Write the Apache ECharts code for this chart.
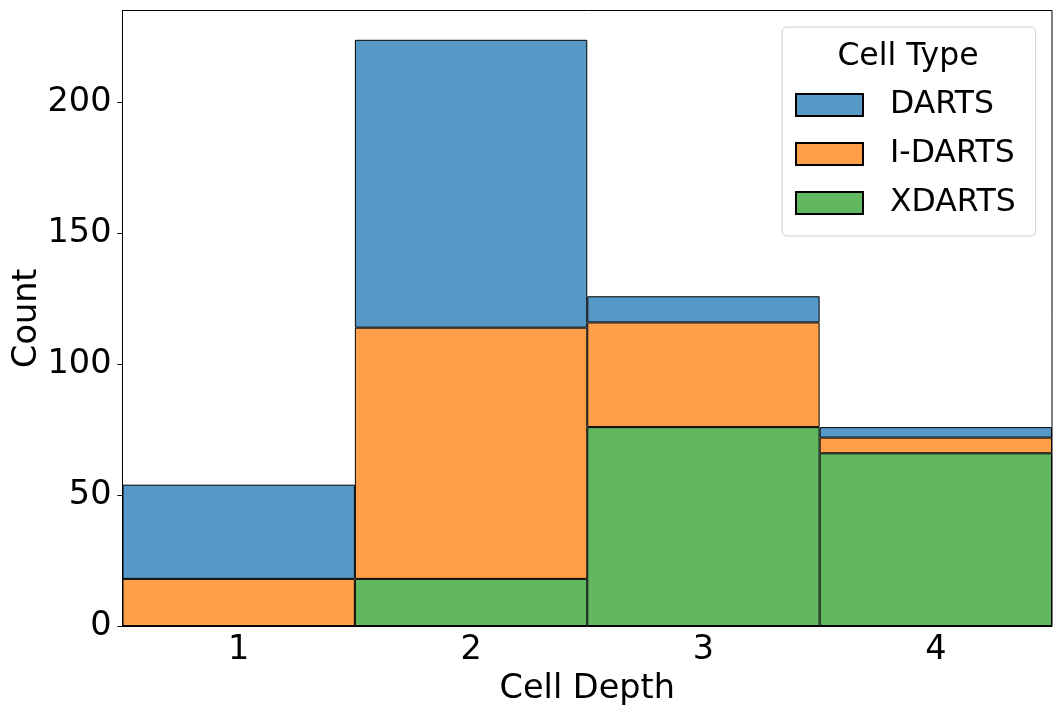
<!DOCTYPE html>
<html>
<head>
<meta charset="utf-8">
<script src="https://cdn.jsdelivr.net/npm/echarts@6/dist/echarts.min.js"></script>
<style>
  html, body { margin: 0; padding: 0; background: #fff; }
  #chart { width: 1062px; height: 717px; }
</style>
</head>
<body>
<div id="chart"></div>
<script>
// stacked histogram: cell depth per cell type
var depths = ['1', '2', '3', '4'];
var darts = [36, 110, 10, 4];
var idarts = [18, 96, 40, 6];
var xdarts = [0, 18, 76, 66];
var yTicks = [0, 50, 100, 150, 200];

var FONT = 'DejaVu Sans';
var AXIS_FS = 33.5;
var LEGEND_FS = 31.5;
var chart = echarts.init(document.getElementById('chart'));

function bar(name, data, color) {
    return {
        name: name,
        type: 'bar',
        stack: 'total',
        data: data,
        barWidth: '100%',
        itemStyle: { color: color, borderColor: '#000', borderWidth: 1 },
        emphasis: { disabled: true }
    };
}

chart.setOption({
    backgroundColor: '#fff',
    animation: false,
    textStyle: { fontFamily: FONT },
    grid: {
        left: 122.5, top: 10.5, width: 929.5, height: 615.5,
        outerBoundsMode: 'none', containLabel: false,
        show: true, borderColor: '#000', borderWidth: 1, backgroundColor: 'transparent'
    },
    legend: {
        data: ['DARTS', 'I-DARTS', 'XDARTS'],
        orient: 'vertical',
        left: 782, top: 27,
        padding: [62, 20, 17, 13],
        itemWidth: 67, itemHeight: 22, itemGap: 17,
        icon: 'rect',
        borderColor: '#d0d0d0', borderWidth: 1, borderRadius: 5,
        backgroundColor: 'rgba(255,255,255,0.8)',
        textStyle: { fontFamily: FONT, fontSize: LEGEND_FS, color: '#000', lineHeight: 30, padding: [0, 0, 0, 22] },
        selectedMode: false
    },
    graphic: [{
        type: 'text', x: 908, y: 57, z: 100,
        style: { text: 'Cell Type', font: LEGEND_FS + 'px "DejaVu Sans"', fill: '#000', align: 'center', verticalAlign: 'middle' }
    }],
    xAxis: {
        type: 'category',
        data: depths,
        boundaryGap: true,
        name: 'Cell Depth',
        nameLocation: 'middle',
        nameGap: 45,
        nameTextStyle: { fontFamily: FONT, fontSize: AXIS_FS, color: '#000' },
        axisLine: { lineStyle: { color: '#000', width: 1 } },
        axisTick: { alignWithLabel: true, length: 5, lineStyle: { color: '#000' } },
        axisLabel: { fontFamily: FONT, fontSize: AXIS_FS, color: '#000', margin: 7 },
        splitLine: { show: false }
    },
    yAxis: {
        type: 'value',
        min: 0, max: 235.2, interval: 50,
        name: 'Count',
        nameLocation: 'middle',
        nameGap: 78,
        nameMoveOverlap: false,
        nameTextStyle: { fontFamily: FONT, fontSize: AXIS_FS, color: '#000' },
        axisLine: { show: true, lineStyle: { color: '#000', width: 1 } },
        axisTick: { show: true, length: 5, customValues: yTicks, lineStyle: { color: '#000' } },
        axisLabel: { fontFamily: FONT, fontSize: AXIS_FS, color: '#000', margin: 11, customValues: yTicks },
        splitLine: { show: false }
    },
    series: [
        bar('XDARTS', xdarts, '#61b861'),
        bar('I-DARTS', idarts, '#ff9f4a'),
        bar('DARTS', darts, '#5799c6')
    ]
});
</script>
</body>
</html>
